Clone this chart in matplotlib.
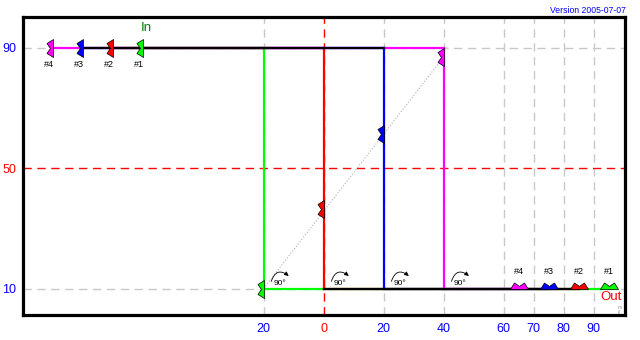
import numpy as np
import matplotlib as mpl
mpl.use('Agg')
import matplotlib.pyplot as plt

plt.rcParams['font.family'] = ['Liberation Sans', 'DejaVu Sans']

# paths of the four items: start at top (y=90), drop at x_turn, end at bottom (y=10)
names = ['#1', '#2', '#3', '#4']
colors = ['#00ff00', '#ff0000', '#0000ff', '#ff00ff']
x_start = [-60, -70, -80, -90]
x_turn = [-20, 0, 20, 40]
x_end = [95, 85, 75, 65]
y_top = 90
y_bot = 10
# markers along the diagonal
diag_x = [-20, 0, 20, 40]
diag_y = [10, 36.5, 61.5, 87]
# overlapping parts drawn black
top_black = (-80, 20)
bot_black = (0, 85)

xticks = [-20, 0, 20, 40, 60, 70, 80, 90]
xticklabels = ['20', '0', '20', '40', '60', '70', '80', '90']
xtickcolors = ['blue', 'red', 'blue', 'blue', 'blue', 'blue', 'blue', 'blue']
yticks = [10, 50, 90]
ytickcolors = ['blue', 'red', 'blue']

fig = plt.figure(figsize=(6.4, 3.4), dpi=100)
ax = fig.add_axes([0.0364, 0.0735, 0.9402, 0.8775])
ax.set_xlim(-100, 100.4)
ax.set_ylim(1.2, 100.4)

# grid
for x in xticks:
    c = 'red' if x == 0 else '#c8c8c8'
    ax.axvline(x, color=c, lw=1, ls=(0, (6, 4)), zorder=1)
for y in yticks:
    c = 'red' if y == 50 else '#c8c8c8'
    ax.axhline(y, color=c, lw=1, ls=(0, (6, 4)), zorder=1)

# diagonal
ax.plot([diag_x[0], diag_x[-1]], [diag_y[0], diag_y[-1]], color='#b0b0b0', lw=0.8, ls=':', zorder=2)

lw = 1.6
for i in range(4):
    ax.plot([x_turn[i], x_turn[i]], [y_top, y_bot], color=colors[i], lw=lw, zorder=3)
    ax.plot([x_start[i], x_turn[i]], [y_top, y_top], color=colors[i], lw=lw, zorder=3)
    ax.plot([x_turn[i], x_end[i]], [y_bot, y_bot], color=colors[i], lw=lw, zorder=3)
ax.plot(top_black, [y_top, y_top], color='black', lw=lw, zorder=4)
ax.plot(bot_black, [y_bot, y_bot], color='black', lw=lw, zorder=4)

# marker shapes
hor = [(-9, 0), (-5, 6.5), (-2, 4.5), (0, 3), (2, 4.5), (5, 6.5), (9, 0), (-9, 0)]
ver = [(-v, u) for (u, v) in hor]
ms = 12.96
for i in range(4):
    ax.plot(x_start[i], y_top, marker=ver, ms=ms, mfc=colors[i], mec='black', mew=0.5, ls='none', zorder=6)
    ax.plot(diag_x[i], diag_y[i], marker=ver, ms=ms, mfc=colors[i], mec='black', mew=0.5, ls='none', zorder=6)
    ax.plot(x_end[i], y_bot, marker=hor, ms=ms, mfc=colors[i], mec='black', mew=0.5, ls='none', zorder=6)
    ax.text(x_start[i] - 1.5, 84.6, names[i], fontsize=6.5, ha='center', va='center', zorder=7)
    ax.text(x_end[i], 15.6, names[i], fontsize=6.5, ha='center', va='center', zorder=7)

# rotation symbols
for x in x_turn:
    ax.text(x + 5.5, 11.6, '90°', fontsize=6, ha='center', va='center', zorder=7)
    ax.annotate('', xy=(x + 8.4, 14.2), xytext=(x + 2.6, 12.4),
                arrowprops=dict(arrowstyle='-|>', connectionstyle='arc3,rad=-0.7',
                                lw=0.6, color='black', mutation_scale=6, shrinkA=0, shrinkB=0),
                zorder=7)

ax.text(-59, 96.6, 'In', color='#008000', fontsize=9.5, ha='center', va='center')
ax.text(95.6, 7.1, 'Out', color='red', fontsize=9.5, ha='center', va='center')
ax.text(98.5, 2.8, 'm\n()', color='#909090', fontsize=3.5, ha='center', va='center', linespacing=0.9)
fig.text(0.978, 0.968, 'Version 2005-07-07', color='blue', fontsize=6.2, ha='right', va='center')

ax.set_xticks(xticks)
ax.set_xticklabels(xticklabels, fontsize=9)
for lab, c in zip(ax.get_xticklabels(), xtickcolors):
    lab.set_color(c)
ax.set_yticks(yticks)
ax.set_yticklabels([str(v) for v in yticks], fontsize=9)
for lab, c in zip(ax.get_yticklabels(), ytickcolors):
    lab.set_color(c)
ax.tick_params(axis='x', length=0, pad=6)
ax.tick_params(axis='y', length=0, pad=5)
for s in ax.spines.values():
    s.set_linewidth(2.3)
    s.set_zorder(10)

fig.savefig('out.png', dpi=100)
